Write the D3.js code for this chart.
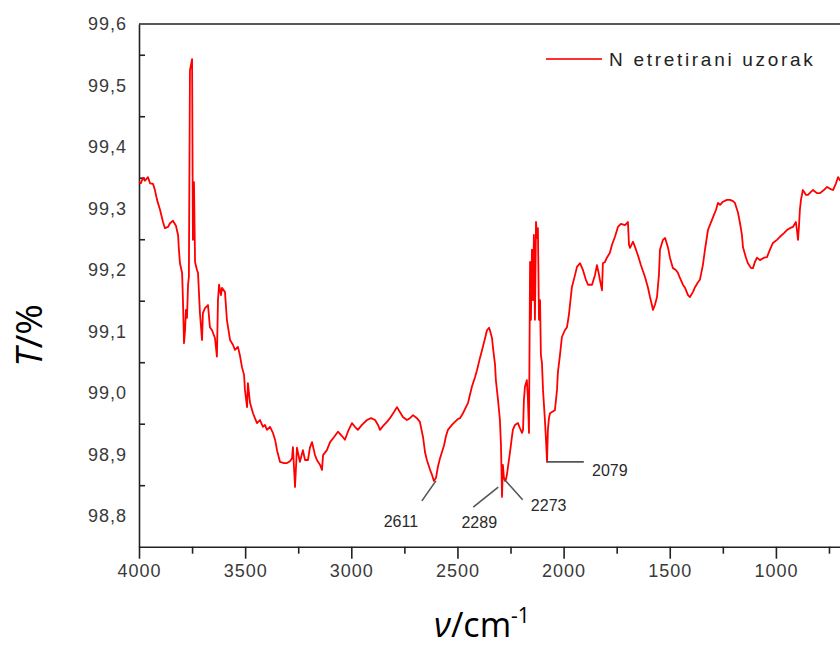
<!DOCTYPE html>
<html>
<head>
<meta charset="utf-8">
<script src="https://cdn.jsdelivr.net/npm/d3@7"></script>
<style>
  body { margin: 0; background: #fff; }
  svg { display: block; }
</style>
</head>
<body>
<script>
// wavenumber (cm-1), left to right
const wavenumbers = [
  4000, 3991, 3981, 3972, 3958, 3948, 3934, 3925, 3915, 3901,
  3887, 3878, 3863, 3854, 3840, 3826, 3816, 3812, 3807, 3797,
  3793, 3788, 3783, 3779, 3774, 3769, 3765, 3760, 3756, 3750,
  3746, 3741, 3736, 3727, 3722, 3713, 3703, 3699, 3689, 3675,
  3666, 3656, 3642, 3633, 3628, 3623, 3614, 3609, 3595, 3586,
  3571, 3557, 3548, 3534, 3524, 3515, 3505, 3501, 3491, 3487,
  3477, 3463, 3454, 3444, 3430, 3416, 3407, 3397, 3383, 3369,
  3359, 3350, 3336, 3317, 3303, 3289, 3279, 3275, 3265, 3256,
  3242, 3228, 3218, 3204, 3195, 3185, 3171, 3162, 3147, 3138,
  3133, 3115, 3100, 3082, 3063, 3044, 3030, 3016, 2997, 2983,
  2969, 2950, 2926, 2907, 2888, 2874, 2865, 2851, 2832, 2818,
  2799, 2785, 2771, 2757, 2738, 2724, 2709, 2691, 2677, 2662,
  2653, 2644, 2629, 2620, 2611, 2601, 2592, 2582, 2573, 2563,
  2554, 2545, 2526, 2512, 2497, 2488, 2474, 2460, 2450, 2441,
  2432, 2417, 2408, 2394, 2384, 2370, 2361, 2351, 2347, 2337,
  2333, 2323, 2319, 2309, 2300, 2295, 2290, 2286, 2281, 2276,
  2272, 2267, 2262, 2253, 2244, 2239, 2229, 2215, 2206, 2196,
  2191, 2187, 2182, 2173, 2168, 2163, 2158, 2154, 2149, 2144,
  2140, 2135, 2130, 2125, 2121, 2116, 2111, 2107, 2102, 2097,
  2088, 2083, 2078, 2074, 2069, 2064, 2055, 2041, 2031, 2027,
  2017, 2008, 1994, 1984, 1975, 1961, 1946, 1937, 1923, 1909,
  1895, 1885, 1866, 1852, 1843, 1833, 1829, 1819, 1815, 1805,
  1796, 1782, 1772, 1758, 1744, 1730, 1711, 1702, 1697, 1692,
  1687, 1673, 1659, 1650, 1636, 1617, 1603, 1593, 1584, 1579,
  1570, 1560, 1551, 1546, 1532, 1522, 1508, 1499, 1485, 1471,
  1461, 1452, 1438, 1428, 1414, 1405, 1391, 1381, 1367, 1358,
  1344, 1334, 1320, 1311, 1296, 1282, 1273, 1263, 1249, 1231,
  1216, 1202, 1193, 1179, 1169, 1160, 1155, 1141, 1132, 1117,
  1108, 1099, 1089, 1075, 1056, 1042, 1028, 1014, 995, 981,
  962, 948, 934, 920, 906, 901, 896, 891, 887, 882,
  873, 858, 849, 835, 825, 807, 792, 774, 759, 745,
  731, 717, 707, 698, 690
]

// transmittance (%) for each wavenumber above
const transmittance = [
  99.343, 99.341, 99.350, 99.345, 99.351, 99.341, 99.340, 99.330, 99.314, 99.298,
  99.278, 99.268, 99.270, 99.276, 99.280, 99.272, 99.257, 99.233, 99.211, 99.195,
  99.151, 99.081, 99.102, 99.135, 99.122, 99.176, 99.189, 99.525, 99.532, 99.543,
  99.249, 99.343, 99.213, 99.200, 99.195, 99.130, 99.086, 99.130, 99.138, 99.143,
  99.107, 99.102, 99.089, 99.059, 99.151, 99.176, 99.159, 99.171, 99.164, 99.119,
  99.086, 99.078, 99.070, 99.075, 99.060, 99.042, 99.029, 99.005, 98.977, 99.016,
  98.984, 98.967, 98.959, 98.951, 98.956, 98.945, 98.948, 98.940, 98.945, 98.935,
  98.924, 98.907, 98.888, 98.886, 98.886, 98.889, 98.894, 98.912, 98.847, 98.911,
  98.888, 98.907, 98.891, 98.891, 98.911, 98.920, 98.899, 98.891, 98.883, 98.875,
  98.899, 98.907, 98.920, 98.928, 98.937, 98.930, 98.924, 98.937, 98.951, 98.945,
  98.940, 98.948, 98.956, 98.959, 98.956, 98.948, 98.940, 98.946, 98.953, 98.959,
  98.969, 98.977, 98.969, 98.961, 98.956, 98.959, 98.964, 98.959, 98.953, 98.928,
  98.904, 98.891, 98.875, 98.867, 98.857, 98.862, 98.880, 98.894, 98.904, 98.915,
  98.930, 98.940, 98.948, 98.953, 98.958, 98.959, 98.967, 98.977, 98.984, 98.997,
  99.010, 99.026, 99.037, 99.057, 99.070, 99.089, 99.102, 99.106, 99.102, 99.089,
  99.075, 99.046, 99.021, 98.989, 98.956, 98.915, 98.831, 98.883, 98.862, 98.857,
  98.859, 98.867, 98.880, 98.902, 98.927, 98.940, 98.948, 98.951, 98.943, 98.935,
  98.940, 98.989, 99.010, 99.021, 98.989, 98.935, 99.213, 99.119, 99.233, 99.151,
  99.257, 99.119, 99.278, 99.252, 99.268, 99.119, 99.151, 99.062, 99.049, 99.005,
  98.956, 98.924, 98.888, 98.940, 98.959, 98.967, 98.969, 98.972, 99.005, 99.033,
  99.062, 99.091, 99.102, 99.107, 99.127, 99.172, 99.192, 99.205, 99.211, 99.200,
  99.184, 99.176, 99.176, 99.192, 99.208, 99.192, 99.184, 99.167, 99.211, 99.213,
  99.220, 99.228, 99.241, 99.254, 99.270, 99.275, 99.273, 99.276, 99.278, 99.241,
  99.236, 99.246, 99.233, 99.224, 99.208, 99.189, 99.172, 99.156, 99.143, 99.135,
  99.143, 99.156, 99.192, 99.233, 99.249, 99.252, 99.236, 99.220, 99.203, 99.200,
  99.195, 99.187, 99.176, 99.171, 99.159, 99.156, 99.164, 99.172, 99.180, 99.184,
  99.208, 99.233, 99.265, 99.273, 99.286, 99.298, 99.309, 99.306, 99.311, 99.314,
  99.314, 99.312, 99.309, 99.294, 99.276, 99.257, 99.237, 99.220, 99.211, 99.203,
  99.203, 99.213, 99.220, 99.216, 99.220, 99.221, 99.233, 99.244, 99.249, 99.254,
  99.260, 99.265, 99.268, 99.270, 99.278, 99.265, 99.249, 99.273, 99.298, 99.314,
  99.330, 99.322, 99.322, 99.327, 99.330, 99.325, 99.325, 99.330, 99.335, 99.332,
  99.330, 99.341, 99.351, 99.346, 99.345
]

const xTickValues = [4000, 3500, 3000, 2500, 2000, 1500, 1000]
const xMinorTicks = [3750, 3250, 2750, 2250, 1750, 1250, 750]
const yTickValues = [99.6, 99.5, 99.4, 99.3, 99.2, 99.1, 99.0, 98.9, 98.8]
const yMinorTicks = [99.55, 99.45, 99.35, 99.25, 99.15, 99.05, 98.95, 98.85]

const peakLabels = ['2611', '2289', '2273', '2079']
const peakWavenumbers = [2611, 2289, 2273, 2079]
const peakTransmittance = [98.857, 98.847, 98.859, 98.888]

const seriesName = 'N etretirani uzorak'

let width = 840
let height = 649
let margin = { top: 24, left: 139 }

const svg = d3.select('body')
  .append('svg')
  .attr('width', width)
  .attr('height', height)

const x = d3.scaleLinear()
  .domain([4000, 400])
  .range([margin.left, margin.left + 3600 * 0.2123])

const y = d3.scaleLinear()
  .domain([98.75, 99.6])
  .range([546.7, margin.top])

const commaLocale = d3.formatLocale({ decimal: ',', thousands: '.', grouping: [3], currency: ['', ''] })

// x axis, major ticks with labels then the short minor ones
svg.append('g')
  .attr('transform', `translate(0, ${y(98.75)})`)
  .call(d3.axisBottom(x).tickValues(xTickValues).tickSize(12).tickSizeOuter(0).tickPadding(6).tickFormat(d3.format('d')))

svg.append('g')
  .attr('transform', `translate(0, ${y(98.75)})`)
  .call(d3.axisBottom(x).tickValues(xMinorTicks).tickSize(7).tickSizeOuter(0).tickFormat(''))
  .select('.domain').remove()

// y axis labels, ticks sit between them pointing inward
svg.append('g')
  .attr('transform', `translate(${margin.left}, 0)`)
  .call(d3.axisLeft(y).tickValues(yTickValues).tickSize(0).tickSizeOuter(0).tickPadding(12).tickFormat(commaLocale.format('.1f')))

svg.append('g')
  .attr('transform', `translate(${margin.left}, 0)`)
  .call(d3.axisRight(y).tickValues(yMinorTicks).tickSize(6).tickSizeOuter(0).tickFormat(''))
  .select('.domain').remove()

svg.selectAll('.domain, .tick line')
  .attr('stroke', '#222')
  .attr('stroke-width', 1.6)

svg.selectAll('.tick text')
  .attr('font-family', '"Liberation Sans", Arial, sans-serif')
  .attr('font-size', '18px')
  .attr('letter-spacing', '1px')
  .attr('fill', '#3a3a3a')

// top frame line
svg.append('line')
  .attr('x1', x(4000))
  .attr('x2', x(400))
  .attr('y1', y(99.6))
  .attr('y2', y(99.6))
  .attr('stroke', '#222')
  .attr('stroke-width', 1.6)

const line = d3.line()
  .x(d => x(d[0]))
  .y(d => y(d[1]))

svg.append('path')
  .datum(d3.zip(wavenumbers, transmittance))
  .attr('d', line)
  .attr('fill', 'none')
  .attr('stroke', '#ff0000')
  .attr('stroke-width', 1.8)
  .attr('stroke-linejoin', 'round')

// peak annotations: leader line offsets and label offsets in px
const leaderStart = [[2, 0], [-4, 0], [-1, 0], [0, 0]]
const leaderEnd = [[-12, 20], [-29, 20], [17, 20], [37, 0]]
const labelOffset = [[-33, 41], [-23, 35], [43, 26], [63, 9]]

peakLabels.forEach((lbl, i) => {
  let px = x(peakWavenumbers[i])
  let py = y(peakTransmittance[i])
  svg.append('line')
    .attr('x1', px + leaderStart[i][0])
    .attr('y1', py + leaderStart[i][1])
    .attr('x2', px + leaderEnd[i][0])
    .attr('y2', py + leaderEnd[i][1])
    .attr('stroke', '#555')
    .attr('stroke-width', 1.6)
  svg.append('text')
    .attr('x', px + labelOffset[i][0])
    .attr('y', py + labelOffset[i][1])
    .attr('text-anchor', 'middle')
    .attr('dominant-baseline', 'central')
    .attr('font-family', '"Liberation Sans", Arial, sans-serif')
    .attr('font-size', '16px')
    .attr('fill', '#2a2a2a')
    .text(lbl)
})

// legend
svg.append('line')
  .attr('x1', 546)
  .attr('x2', 602)
  .attr('y1', 59)
  .attr('y2', 59)
  .attr('stroke', '#ff3030')
  .attr('stroke-width', 2)

svg.append('text')
  .attr('x', 609)
  .attr('y', 59)
  .attr('dominant-baseline', 'central')
  .attr('font-family', '"Liberation Sans", Arial, sans-serif')
  .attr('font-size', '19px')
  .attr('letter-spacing', '2.7px')
  .attr('fill', '#222')
  .text(seriesName)

// axis titles
const yTitle = svg.append('text')
  .attr('transform', `translate(42, ${y(99.1) + 4}) rotate(-90)`)
  .attr('text-anchor', 'middle')
  .attr('font-family', '"Open Sans", sans-serif')
  .attr('font-size', '37px')
  .attr('fill', '#000')
yTitle.append('tspan').attr('font-style', 'italic').text('T')
yTitle.append('tspan').text('/%')

const xTitle = svg.append('text')
  .attr('x', 482)
  .attr('y', 637)
  .attr('text-anchor', 'middle')
  .attr('font-family', '"Open Sans", sans-serif')
  .attr('font-size', '34px')
  .attr('fill', '#000')
xTitle.append('tspan').attr('font-style', 'italic').text('ν')
xTitle.append('tspan').text('/cm')
xTitle.append('tspan').attr('font-size', '21px').attr('dy', '-14').text('-1')
</script>
</body>
</html>
